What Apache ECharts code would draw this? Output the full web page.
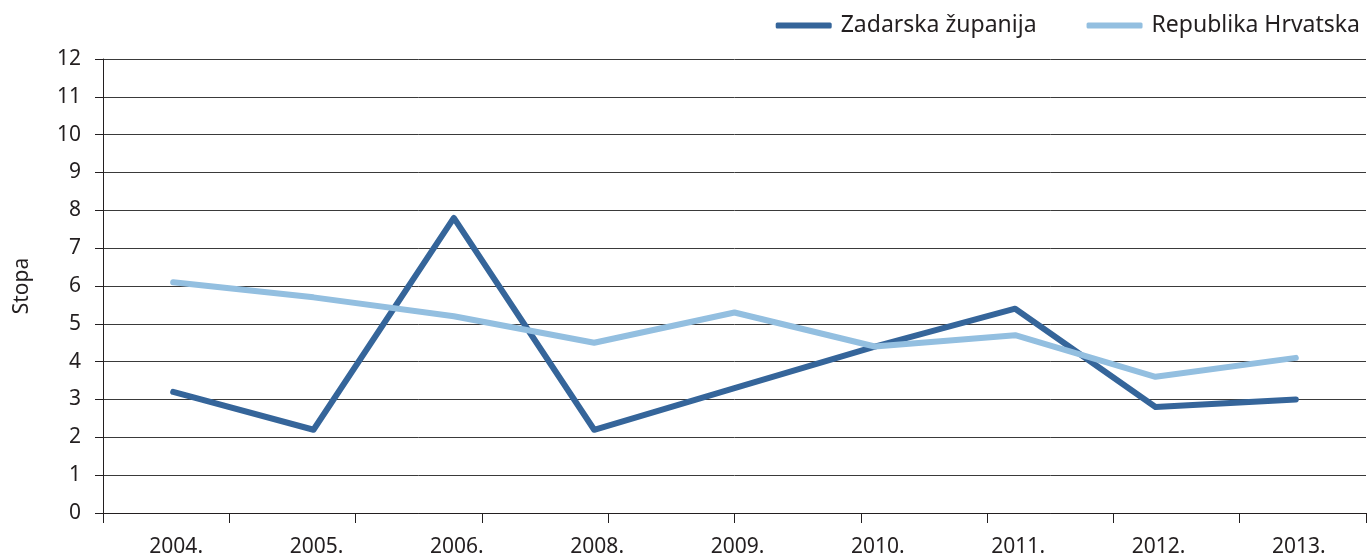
<!DOCTYPE html>
<html>
<head>
<meta charset="utf-8">
<script src="https://cdn.jsdelivr.net/npm/echarts@6/dist/echarts.min.js"></script>
<style>
  html, body { margin: 0; padding: 0; background: #fff; }
  #chart { width: 1367px; height: 559px; }
</style>
</head>
<body>
<div id="chart"></div>
<script>
// godine i stope
const years = ['2004.', '2005.', '2006.', '2008.', '2009.', '2010.', '2011.', '2012.', '2013.'];
const zadarska = [3.2, 2.2, 7.8, 2.2, 3.3, 4.4, 5.4, 2.8, 3.0];
const hrvatska = [6.1, 5.7, 5.2, 4.5, 5.3, 4.4, 4.7, 3.6, 4.1];
// Excel tick slots (10 divisions, not aligned with the 9 categories)
const tickSlots = ['', '', '', '', '', '', '', '', '', ''];

const font = 'Noto Sans';
const textColor = '#231f20';

const chart = echarts.init(document.getElementById('chart'));

chart.setOption({
    animation: false,
    textStyle: { fontFamily: font },
    legend: {
        right: 2,
        top: 9,
        itemWidth: 56,
        itemHeight: 6,
        itemGap: 50,
        textStyle: { fontSize: 23, color: textColor, fontFamily: font, padding: [0, 0, 0, 4] },
        data: [
            { name: 'Zadarska županija', icon: 'roundRect' },
            { name: 'Republika Hrvatska', icon: 'roundRect' }
        ]
    },
    grid: {
        left: 103,
        right: 1,
        top: 59,
        bottom: 46,
        outerBoundsMode: 'none'
    },
    xAxis: [
        {
            type: 'category',
            data: years,
            position: 'bottom',
            axisLine: { show: false },
            axisTick: { show: false },
            axisLabel: {
                color: textColor,
                fontSize: 21,
                margin: 24,
                padding: [0, 0, 0, 6]
            }
        },
        {
            type: 'category',
            data: tickSlots,
            position: 'bottom',
            axisLine: { lineStyle: { color: '#231f20', width: 1 } },
            axisTick: { show: true, length: 10, lineStyle: { color: '#231f20' } },
            axisLabel: { show: false }
        }
    ],
    yAxis: {
        type: 'value',
        min: 0,
        max: 12,
        interval: 1,
        name: 'Stopa',
        nameLocation: 'middle',
        nameGap: 70,
        nameRotate: 90,
        nameTextStyle: { fontSize: 21, color: textColor },
        axisLine: { show: true, lineStyle: { color: '#231f20' } },
        axisTick: { show: true, length: 8, lineStyle: { color: '#231f20' } },
        axisLabel: { color: textColor, fontSize: 21, margin: 22 },
        splitLine: { lineStyle: { color: '#3a3a3a', width: 1 } }
    },
    series: [
        {
            name: 'Zadarska županija',
            type: 'line',
            data: zadarska,
            symbol: 'none',
            itemStyle: { color: '#35659a' },
            lineStyle: { color: '#35659a', width: 6, cap: 'round', join: 'round' }
        },
        {
            name: 'Republika Hrvatska',
            type: 'line',
            data: hrvatska,
            symbol: 'none',
            itemStyle: { color: '#93bfe0' },
            lineStyle: { color: '#93bfe0', width: 6, cap: 'round', join: 'round' }
        }
    ]
});
</script>
</body>
</html>
